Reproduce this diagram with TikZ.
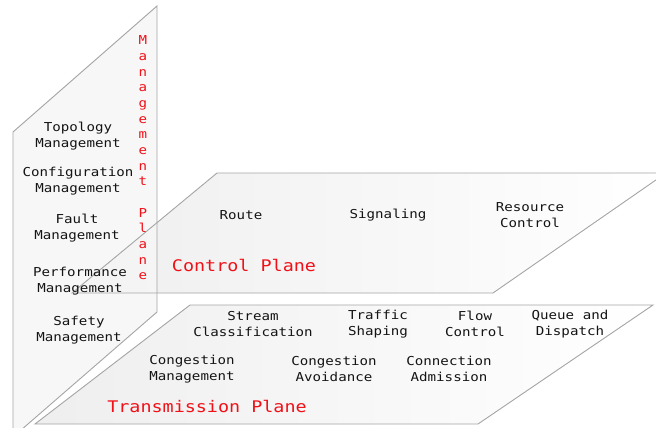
\documentclass[tikz,border=0pt]{standalone}
\usepackage{fontspec}
\newfontfamily\planefont[FakeStretch=1.15]{DejaVu Sans Mono}
\definecolor{planered}{RGB}{240,16,24}
\definecolor{planeline}{RGB}{165,165,165}
\definecolor{planetext}{RGB}{20,20,20}
\tikzset{
	planeedge/.style={draw=planeline,line width=0.9pt,line join=miter},
	func/.style={font=\planefont\fontsize{12.3}{15.5}\selectfont,text=planetext,align=center,inner sep=0pt},
	planetitle/.style={font=\planefont\fontsize{16}{18}\selectfont,text=planered,inner sep=0pt},
	vletter/.style={font=\planefont\fontsize{12.3}{14}\selectfont,text=planered,inner sep=0pt,anchor=base},
}
\begin{document}
\begin{tikzpicture}[x=1pt,y=-1pt]
			\useasboundingbox (0,0) rectangle (656,428);
			\clip (0,0) rectangle (656,428);
			\coordinate (m1) at (13,132);
			\coordinate (m2) at (157,6);
			\coordinate (m3) at (157,312);
			\coordinate (m4) at (13,437);
			\coordinate (c1) at (72,293);
			\coordinate (c2) at (217,173);
			\coordinate (c3) at (666,173);
			\coordinate (c4) at (493,293);
			\coordinate (t1) at (35,424);
			\coordinate (t2) at (190,305);
			\coordinate (t3) at (653,305);
			\coordinate (t4) at (478,424);
			\fill[white] (0,0) rectangle (656,428);
			\shade[left color=gray!13,right color=white] (c1) -- (c2) -- (c3) -- (c4) -- cycle;
			\fill[gray!7,fill opacity=0.8] (m1) -- (m2) -- (m3) -- (m4) -- cycle;
			\shade[left color=gray!13,right color=white] (t1) -- (t2) -- (t3) -- (t4) -- cycle;
			\draw[planeedge] (m1) -- (m2) -- (m3) -- (m4) -- cycle;
			\draw[planeedge] (c1) -- (c2) -- (c3) -- (c4) -- cycle;
			\draw[planeedge] (t1) -- (t2) -- (t3) -- (t4) -- cycle;
			\node[func] (topo) at (78,136) {Topology\\Management};
			\node[func] (config) at (78,181) {Configuration\\Management};
			\node[func] (fault) at (77,228) {Fault\\Management};
			\node[func] (perf) at (80,281) {Performance\\Management};
			\node[func] (safety) at (79,330) {Safety\\Management};
			\foreach \Lettre [count=\i] in {M,a,n,a,g,e,m,e,n,t,{},P,l,a,n,e}
				\node[vletter] (mp\i) at (143,{45+15.65*(\i-1)}) {\Lettre};
			\node[func] (route) at (241,215) {Route};
			\node[func] (signal) at (388,215) {Signaling};
			\node[func] (resource) at (530,215) {Resource\\Control};
			\node[planetitle] (cplane) at (244,265) {Control Plane};
			\node[func] (stream) at (253,324) {Stream\\Classification};
			\node[func] (traffic) at (378,324) {Traffic\\Shaping};
			\node[func] (flow) at (475,324) {Flow\\Control};
			\node[func] (queue) at (570,324) {Queue and\\Dispatch};
			\node[func] (congman) at (192,369) {Congestion\\Management};
			\node[func] (congav) at (334,369) {Congestion\\Avoidance};
			\node[func] (conadm) at (449,369) {Connection\\Admission};
			\node[planetitle] (tplane) at (207,406) {Transmission Plane};
		\end{tikzpicture}
\end{document}
